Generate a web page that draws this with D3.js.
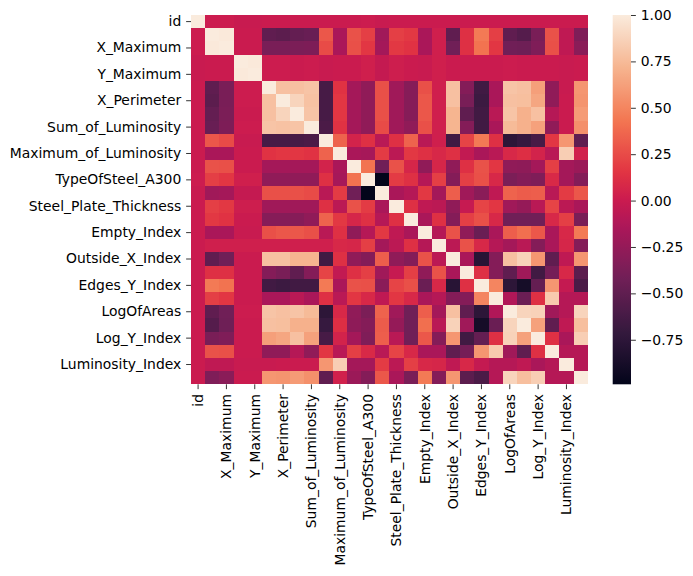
<!DOCTYPE html>
<html>
<head>
<meta charset="utf-8">
<script src="https://cdn.jsdelivr.net/npm/d3@7"></script>
<style>
  body { margin: 0; background: #fff; }
  text { font-family: "DejaVu Sans", sans-serif; }
</style>
</head>
<body>
<div id="chart"></div>
<script>
////////////////////////////////////////////////////////////////////
////////////////////////////  Data  ////////////////////////////////
const columns = [
  "id", "X_Minimum", "X_Maximum", "Y_Minimum", "Y_Maximum", "Pixels_Areas",
  "X_Perimeter", "Y_Perimeter", "Sum_of_Luminosity", "Minimum_of_Luminosity",
  "Maximum_of_Luminosity", "Length_of_Conveyer", "TypeOfSteel_A300",
  "TypeOfSteel_A400", "Steel_Plate_Thickness", "Edges_Index", "Empty_Index",
  "Square_Index", "Outside_X_Index", "Edges_X_Index", "Edges_Y_Index",
  "Outside_Global_Index", "LogOfAreas", "Log_X_Index", "Log_Y_Index",
  "Orientation_Index", "Luminosity_Index", "SigmoidOfAreas"
];

// seaborn only labelled every other column
const tickLabels = columns.filter((d, i) => i % 2 === 0);

// upper triangle of the correlation matrix: row i holds columns i+1 .. 27
const corrUpper = [
  [0.01, 0.01, -0.01, -0.01, 0.00, 0.00, 0.00, 0.00, 0.00, 0.00, 0.00, 0.01, -0.01, 0.00, 0.00, 0.00, 0.00, 0.00, 0.00, 0.00, 0.00, 0.00, 0.00, 0.00, 0.00, 0.00, 0.00],
  [0.99, 0.00, 0.00, -0.50, -0.52, -0.48, -0.46, 0.30, -0.15, 0.28, 0.20, -0.20, 0.20, 0.17, -0.15, 0.03, -0.50, 0.13, 0.45, 0.20, -0.50, -0.55, -0.38, 0.28, -0.05, -0.35],
  [0.00, 0.00, -0.38, -0.38, -0.37, -0.36, 0.25, -0.15, 0.27, 0.16, -0.18, 0.17, 0.14, -0.15, 0.03, -0.42, 0.13, 0.42, 0.16, -0.42, -0.43, -0.35, 0.27, -0.05, -0.30],
  [0.99, 0.01, 0.01, 0.00, 0.01, -0.01, 0.00, 0.00, 0.03, -0.03, 0.02, 0.00, -0.01, 0.03, 0.00, 0.00, 0.00, 0.00, 0.01, 0.00, 0.00, 0.00, -0.01, 0.00],
  [0.01, 0.01, 0.00, 0.01, -0.01, 0.00, 0.00, 0.03, -0.03, 0.02, 0.00, -0.01, 0.03, 0.00, 0.00, 0.00, 0.00, 0.01, 0.00, 0.00, 0.00, -0.01, 0.00],
  [0.78, 0.78, 0.80, -0.62, 0.14, -0.18, -0.27, 0.27, -0.20, -0.32, 0.27, 0.03, 0.78, -0.33, -0.65, -0.15, 0.80, 0.78, 0.62, -0.27, -0.01, 0.58],
  [0.88, 0.79, -0.62, 0.16, -0.18, -0.27, 0.27, -0.20, -0.32, 0.30, 0.03, 0.78, -0.38, -0.67, -0.15, 0.78, 0.77, 0.65, -0.27, 0.00, 0.57],
  [0.80, -0.62, 0.16, -0.18, -0.27, 0.27, -0.20, -0.32, 0.30, 0.03, 0.72, -0.50, -0.65, -0.08, 0.80, 0.70, 0.78, -0.10, 0.00, 0.60],
  [-0.60, 0.14, -0.18, -0.27, 0.25, -0.20, -0.27, 0.27, 0.03, 0.72, -0.33, -0.65, -0.15, 0.75, 0.70, 0.63, -0.27, 0.00, 0.55],
  [0.35, 0.05, 0.13, -0.08, 0.13, 0.35, -0.08, 0.03, -0.65, 0.22, 0.45, 0.13, -0.75, -0.70, -0.62, 0.16, 0.58, -0.50],
  [-0.15, -0.17, 0.18, -0.07, 0.17, 0.13, 0.08, 0.13, -0.04, -0.15, -0.08, 0.08, 0.12, 0.05, -0.08, 0.85, 0.04],
  [0.42, -0.42, 0.28, 0.07, -0.27, 0.07, -0.27, 0.13, 0.28, 0.16, -0.27, -0.28, -0.18, 0.20, -0.18, -0.22],
  [-0.99, 0.18, 0.13, -0.10, 0.20, -0.33, 0.20, 0.27, 0.08, -0.37, -0.33, -0.35, 0.09, -0.18, -0.33],
  [-0.15, -0.10, 0.17, -0.18, 0.33, -0.20, -0.30, -0.05, 0.35, 0.32, 0.33, -0.08, 0.18, 0.30],
  [0.13, -0.05, -0.07, -0.27, -0.02, 0.22, 0.16, -0.20, -0.25, -0.08, 0.22, -0.07, -0.15],
  [-0.15, 0.13, -0.33, 0.20, 0.27, 0.08, -0.42, -0.42, -0.42, 0.08, 0.20, -0.38],
  [-0.10, 0.28, -0.27, -0.45, -0.15, 0.33, 0.40, 0.30, -0.15, 0.08, 0.45],
  [-0.07, 0.28, 0.08, -0.10, -0.18, -0.08, -0.33, -0.15, 0.07, -0.33],
  [-0.15, -0.78, -0.33, 0.78, 0.87, 0.58, -0.50, -0.05, 0.58],
  [0.13, -0.33, -0.50, -0.20, -0.65, -0.40, 0.08, -0.52],
  [0.50, -0.75, -0.88, -0.48, 0.58, -0.03, -0.60],
  [-0.12, -0.45, 0.13, 0.83, -0.10, -0.10],
  [0.88, 0.87, -0.20, -0.10, 0.88],
  [0.63, -0.50, -0.05, 0.77],
  [0.13, -0.15, 0.85],
  [-0.10, -0.10],
  [-0.10],
  []
];

const colorbarTicks = [-0.75, -0.5, -0.25, 0, 0.25, 0.5, 0.75, 1.0];

// seaborn "rocket" colormap stops
const rocketStops = [0, 1 / 7, 2 / 7, 3 / 7, 0.5, 4 / 7, 5 / 7, 6 / 7, 1];
const rocketColors = ["#03051a", "#35193e", "#701f57", "#ad1759", "#cb1b4f",
  "#e13342", "#f37651", "#f6b48f", "#faebdd"];

////////////////////////////////////////////////////////////////////
////////////////////////////  Init  ////////////////////////////////
const width = 693;
const height = 576;
const plot = { left: 191, right: 587.7, top: 15, bottom: 384.3 };
const bar = { left: 612.7, right: 631 };
const tick = 4.86;
const fontSize = "13.9px";

// full symmetric matrix from the triangle
const cells = [];
columns.forEach((row, i) => {
  columns.forEach((col, j) => {
    let v;
    if (i === j) v = 1;
    else if (j > i) v = corrUpper[i][j - i - 1];
    else v = corrUpper[j][i - j - 1];
    cells.push({ row, col, v });
  });
});

const vmin = d3.min(cells, (d) => d.v);
const vmax = d3.max(cells, (d) => d.v);

const svg = d3.select("#chart").append("svg")
  .attr("width", width).attr("height", height);

const xScale = d3.scaleBand().domain(columns).range([plot.left, plot.right]);
const yScale = d3.scaleBand().domain(columns).range([plot.top, plot.bottom]);

const colorScale = d3.scaleLinear()
  .domain(rocketStops.map((t) => vmin + t * (vmax - vmin)))
  .range(rocketColors)
  .interpolate(d3.interpolateRgb)
  .clamp(true);

// heatmap (crisp edges so neighbouring cells do not leave seams)
svg.append("g")
  .attr("shape-rendering", "crispEdges")
  .selectAll("rect")
  .data(cells)
  .join("rect")
  .attr("x", (d) => xScale(d.col))
  .attr("y", (d) => yScale(d.row))
  .attr("width", xScale.bandwidth())
  .attr("height", yScale.bandwidth())
  .attr("fill", (d) => colorScale(d.v));

// axes
const yAxis = d3.axisLeft(yScale).tickValues(tickLabels)
  .tickSize(tick).tickPadding(tick);
const yAxisGroup = svg.append("g")
  .attr("transform", `translate(${plot.left},0)`)
  .call(yAxis);

const xAxis = d3.axisBottom(xScale).tickValues(tickLabels)
  .tickSize(tick).tickPadding(tick);
const xAxisGroup = svg.append("g")
  .attr("transform", `translate(0,${plot.bottom})`)
  .call(xAxis);

xAxisGroup.selectAll("text")
  .attr("transform", "rotate(-90)")
  .attr("x", -(tick * 2))
  .attr("y", 0)
  .attr("dy", "0.35em")
  .attr("text-anchor", "end");

[xAxisGroup, yAxisGroup].forEach((g) => {
  g.select(".domain").remove();
  g.selectAll("line").attr("stroke", "#000").attr("stroke-width", 0.8);
  g.selectAll("text").attr("fill", "#000")
    .style("font-size", fontSize).style("font-family", "DejaVu Sans");
});

// colorbar
const cbScale = d3.scaleLinear().domain([vmin, vmax]).range([plot.bottom, plot.top]);

const grad = svg.append("defs").append("linearGradient")
  .attr("id", "cb-grad")
  .attr("x1", 0).attr("y1", 1).attr("x2", 0).attr("y2", 0);
grad.selectAll("stop")
  .data(d3.range(0, 1.0001, 1 / 64))
  .join("stop")
  .attr("offset", (t) => t)
  .attr("stop-color", (t) => colorScale(vmin + t * (vmax - vmin)));

svg.append("rect")
  .attr("x", bar.left)
  .attr("y", plot.top)
  .attr("width", bar.right - bar.left)
  .attr("height", plot.bottom - plot.top)
  .attr("fill", "url(#cb-grad)");

const cbAxis = d3.axisRight(cbScale).tickValues(colorbarTicks)
  .tickSize(tick).tickPadding(tick).tickFormat(d3.format(".2f"));
const cbGroup = svg.append("g")
  .attr("transform", `translate(${bar.right},0)`)
  .call(cbAxis);
cbGroup.select(".domain").remove();
cbGroup.selectAll("line").attr("stroke", "#000").attr("stroke-width", 0.8);
cbGroup.selectAll("text").attr("fill", "#000")
  .style("font-size", fontSize).style("font-family", "DejaVu Sans");
</script>
</body>
</html>
